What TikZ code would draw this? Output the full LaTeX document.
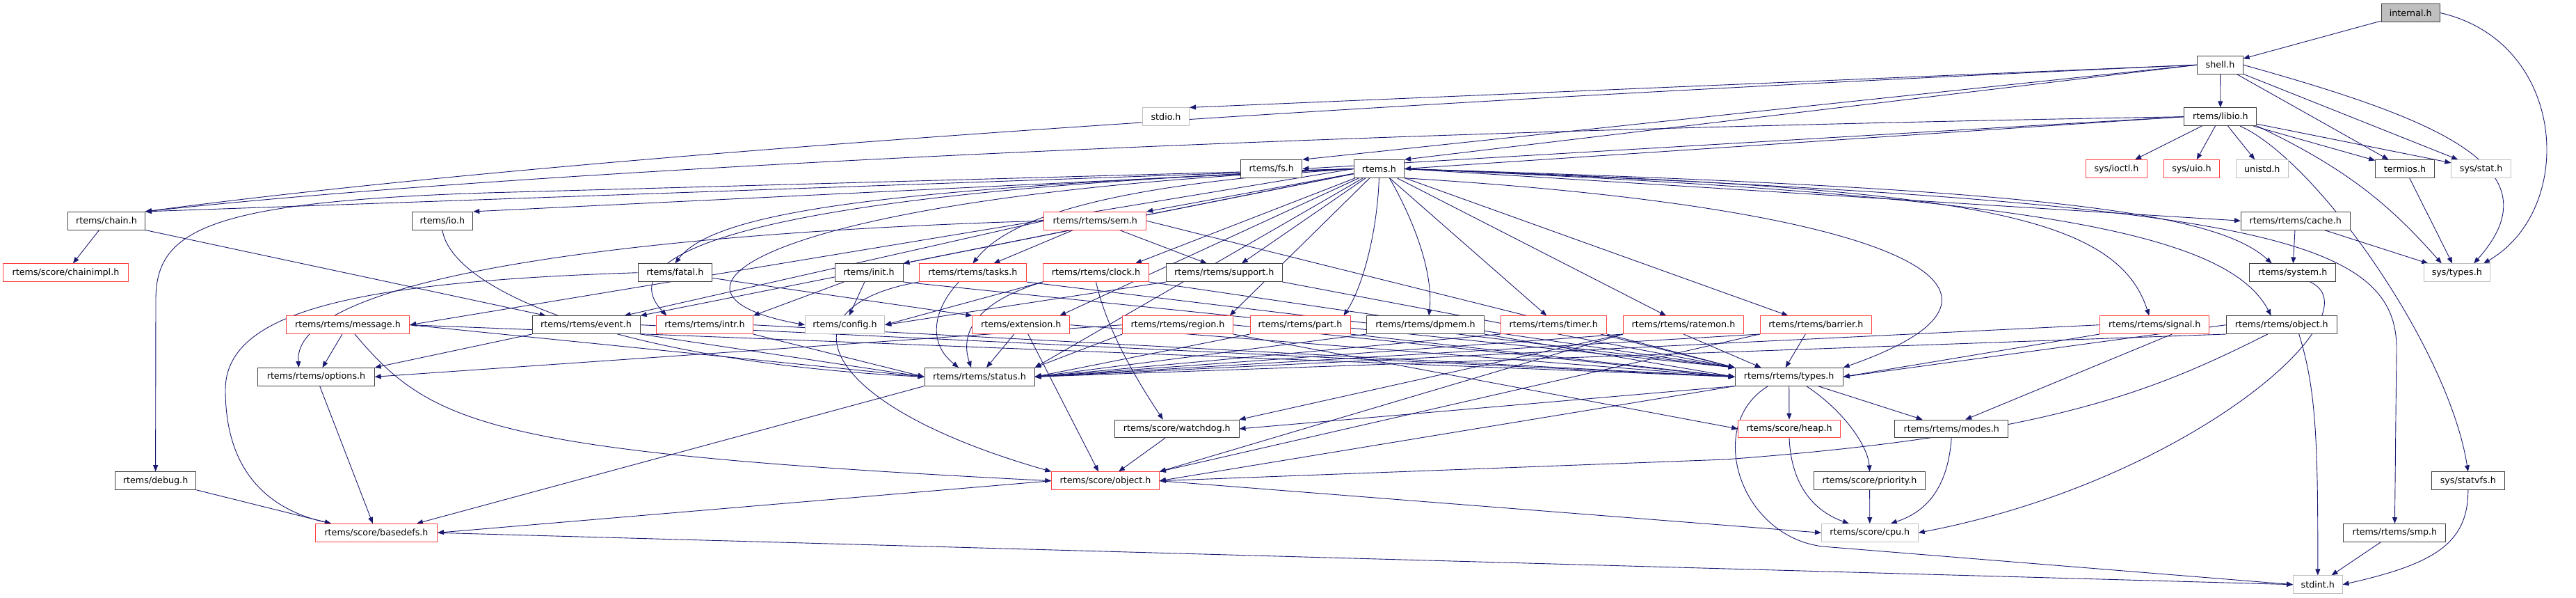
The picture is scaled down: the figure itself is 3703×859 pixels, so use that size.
\documentclass[tikz,border=0pt]{standalone}
\usepackage{fontspec}
\setmainfont{DejaVu Sans}
\usetikzlibrary{arrows.meta}
\definecolor{edgec}{HTML}{191970}
\definecolor{nblk}{HTML}{404040}
\definecolor{nred}{HTML}{FF4040}
\definecolor{ngry}{HTML}{BFBFBF}
\pgfdeclarelayer{edgelayer}
\pgfsetlayers{edgelayer,main}
\newcommand\mknode[6]{\node[#6, minimum width=#5pt] (#1) at (#3,#4) {#2};}
\begin{document}
\begin{tikzpicture}[x=1pt,y=-1pt,
  dbox/.style={rectangle, inner sep=0pt, minimum height=25.6pt, line width=1pt, fill=white,
    font=\fontsize{12.7pt}{15pt}\selectfont},
  nb/.style={dbox, draw=nblk},
  nr/.style={dbox, draw=nred},
  ng/.style={dbox, draw=ngry},
  nf/.style={dbox, draw=nblk, fill=ngry},
  ed/.style={draw=edgec, line width=0.9pt, -{Triangle[length=9pt,width=7pt]}}]
\useasboundingbox (0,0) rectangle (3703,859);
% ---------- nodes ----------
\mknode{internal}{internal.h}{3465.2}{18.5}{84.3}{nf}
\mknode{shell}{shell.h}{3191.5}{93.2}{65.3}{nb}
\mknode{stdio}{stdio.h}{1676}{167.7}{67}{ng}
\mknode{libio}{rtems/libio.h}{3191.9}{167.7}{104}{nb}
\mknode{fs}{rtems/fs.h}{1827.8}{242.5}{88.2}{nb}
\mknode{rtems}{rtems.h}{1982.4}{242.5}{72.4}{nb}
\mknode{ioctl}{sys/ioctl.h}{3042.5}{242.5}{88.2}{nr}
\mknode{uio}{sys/uio.h}{3150.4}{242.5}{80.3}{nr}
\mknode{unistd}{unistd.h}{3251.8}{242.5}{75.1}{ng}
\mknode{termios}{termios.h}{3457}{242.5}{84.6}{nb}
\mknode{stat}{sys/stat.h}{3566.6}{242.5}{85.4}{ng}
\mknode{chain}{rtems/chain.h}{153}{317.2}{110.7}{nb}
\mknode{io}{rtems/io.h}{635.9}{317.2}{87.7}{nb}
\mknode{sem}{rtems/rtems/sem.h}{1574.3}{317.2}{146.7}{nr}
\mknode{cache}{rtems/rtems/cache.h}{3299.7}{317.2}{156.6}{nb}
\mknode{chainimpl}{rtems/score/chainimpl.h}{94.5}{391.7}{179.6}{nr}
\mknode{fatal}{rtems/fatal.h}{970.4}{391.7}{106.8}{nb}
\mknode{init}{rtems/init.h}{1249}{391.7}{98}{nb}
\mknode{tasks}{rtems/rtems/tasks.h}{1398.4}{391.7}{153.8}{nr}
\mknode{clock}{rtems/rtems/clock.h}{1575.5}{391.7}{152.2}{nr}
\mknode{support}{rtems/rtems/support.h}{1759.8}{391.7}{166.5}{nb}
\mknode{system}{rtems/system.h}{3295.7}{391.7}{124.1}{nb}
\mknode{systypes}{sys/types.h}{3531.8}{391.7}{95.6}{ng}
\mknode{message}{rtems/rtems/message.h}{500}{466.7}{177.6}{nr}
\mknode{event}{rtems/rtems/event.h}{842.6}{466.7}{155}{nb}
\mknode{intr}{rtems/rtems/intr.h}{1013}{466.7}{138.4}{nr}
\mknode{config}{rtems/config.h}{1214.5}{466.7}{114.2}{ng}
\mknode{extension}{rtems/extension.h}{1467.8}{466.7}{140}{nr}
\mknode{region}{rtems/rtems/region.h}{1693}{466.7}{158.5}{nr}
\mknode{part}{rtems/rtems/part.h}{1869}{466.7}{144}{nr}
\mknode{dpmem}{rtems/rtems/dpmem.h}{2049}{466.7}{168.4}{nb}
\mknode{timer}{rtems/rtems/timer.h}{2233.3}{466.7}{152.6}{nr}
\mknode{ratemon}{rtems/rtems/ratemon.h}{2420}{466.7}{173.2}{nr}
\mknode{barrier}{rtems/rtems/barrier.h}{2610.3}{466.7}{160.2}{nr}
\mknode{signal}{rtems/rtems/signal.h}{3097.3}{466.7}{157.3}{nr}
\mknode{robject}{rtems/rtems/object.h}{3279.7}{466.7}{158.6}{nb}
\mknode{options}{rtems/rtems/options.h}{454.5}{541.3}{167.3}{nb}
\mknode{status}{rtems/rtems/status.h}{1408}{541.3}{158}{nb}
\mknode{types}{rtems/rtems/types.h}{2571.7}{541.3}{155}{nb}
\mknode{watchdog}{rtems/score/watchdog.h}{1691.8}{616}{178.4}{nb}
\mknode{heap}{rtems/score/heap.h}{2572}{616}{146.7}{nr}
\mknode{modes}{rtems/rtems/modes.h}{2805.2}{616}{162.5}{nb}
\mknode{debug}{rtems/debug.h}{223.6}{690.5}{116.6}{nb}
\mknode{sobject}{rtems/score/object.h}{1589}{690.7}{154.6}{nr}
\mknode{priority}{rtems/score/priority.h}{2687.6}{690.7}{160.5}{nb}
\mknode{statvfs}{sys/statvfs.h}{3547.8}{690.7}{105.6}{nb}
\mknode{basedefs}{rtems/score/basedefs.h}{541}{765.3}{175}{nr}
\mknode{cpu}{rtems/score/cpu.h}{2687.8}{765.3}{138.8}{ng}
\mknode{smp}{rtems/rtems/smp.h}{3442.4}{765.3}{147.1}{nb}
\mknode{stdint}{stdint.h}{3331.8}{839.7}{70.5}{ng}
% ---------- edges (on a layer below the nodes) ----------
\begin{pgfonlayer}{edgelayer}
% internal
\draw[ed] (internal) -- (shell);
\draw[ed] (internal.east) .. controls (3690,60) and (3705,300) .. ([xshift=-10pt]systypes.north east);
% shell
\draw[ed] (shell) -- (libio);
\draw[ed] (shell) -- (termios);
\draw[ed] (shell) -- (stat);
\draw[ed] (shell.east) .. controls (3500,170) and (3680,240) .. ([xshift=-24pt]systypes.north east);
\draw[ed] (shell.west) -- (stdio.north east);
\draw[ed] (shell.west) -- (fs.north east);
\draw[ed] (shell.west) -- (rtems.north east);
\draw[ed] (shell.west) .. controls (1900,150) and (800,225) .. (chain.north east);
% libio
\draw[ed] (libio.west) -- (fs.east);
\draw[ed] (libio.west) -- (rtems.east);
\draw[ed] (libio.west) .. controls (1800,190) and (700,250) .. (chain.north east);
\draw[ed] (libio) -- (ioctl);
\draw[ed] (libio) -- (uio);
\draw[ed] (libio) -- (unistd);
\draw[ed] (libio) -- (termios);
\draw[ed] (libio) -- (stat);
\draw[ed] (libio.south east) .. controls (3380,245) and (3440,300) .. ([xshift=-22pt]systypes.north);
\draw[ed] ([xshift=28pt]libio.south) .. controls (3330,230) and (3520,500) .. (statvfs.north);
% misc top right
\draw[ed] (termios) -- (systypes);
\draw[ed] (cache) -- (systypes);
\draw[ed] (cache) -- (system);
\draw[ed] ([xshift=25pt]system.south) .. controls (3420,450) and (3150,690) .. (cpu.east);
% chain
\draw[ed] (chain) -- (chainimpl);
\draw[ed] (chain.south east) -- ([xshift=20pt]event.north west);
% rtems.h
\draw[ed] (rtems.west) -- (chain.north east);
\draw[ed] (rtems.west) -- (io.north east);
\draw[ed] (rtems) -- (sem.north east);
\draw[ed] (rtems.east) -- (cache.west);
\draw[ed] (rtems.west) .. controls (1300,270) and (1030,300) .. (fatal.north);
\draw[ed] (rtems) -- (init.north east);
\draw[ed] (rtems.west) .. controls (1650,262) and (1460,300) .. (tasks.north);
\draw[ed] (rtems) -- ([xshift=-20pt]clock.north east);
\draw[ed] (rtems) -- ([xshift=25pt]support.north);
\draw[ed] (rtems.east) .. controls (2900,270) and (3180,300) .. ([xshift=-30pt]system.north);
\draw[ed] (rtems.west) -- (message.east);
\draw[ed] (rtems) -- (event.north east);
\draw[ed] (rtems.west) .. controls (1100,275) and (870,360) .. ([xshift=15pt]intr.north west);
\draw[ed] (rtems.west) .. controls (1100,280) and (900,420) .. (config.west);
\draw[ed] (rtems) -- ([xshift=-15pt]extension.north east);
\draw[ed] (rtems) -- ([xshift=-5pt]region.north east);
\draw[ed] (rtems.south) .. controls (1980,330) and (1960,410) .. ([xshift=-10pt]part.north east);
\draw[ed] ([xshift=15pt]rtems.south) .. controls (2040,330) and (2060,400) .. ([xshift=5pt]dpmem.north);
\draw[ed] (rtems) -- ([xshift=-10pt]timer.north);
\draw[ed] (rtems) -- ([xshift=-25pt]ratemon.north);
\draw[ed] (rtems) -- ([xshift=-40pt]barrier.north);
\draw[ed] (rtems.east) .. controls (2800,270) and (3040,300) .. ([xshift=-8pt]signal.north);
\draw[ed] (rtems.east) .. controls (2900,280) and (3200,330) .. ([xshift=-15pt]robject.north);
\draw[ed] (rtems.east) .. controls (3200,290) and (3445,330) .. (3445,500) -- (smp.north);
\draw[ed] (rtems) -- (status.north east);
\draw[ed] (rtems.south east) .. controls (2750,300) and (2960,420) .. (types.north east);
\draw[ed] (rtems.west) -- (700,277) .. controls (300,290) and (224,330) .. (224,430) -- (debug.north);
% level 4/5
\draw[ed] (io.south) .. controls (650,420) and (900,520) .. (status.west);
\draw[ed] (fatal.west) .. controls (500,405) and (324,450) .. (324,560) .. controls (324,690) and (400,735) .. ([xshift=-65pt]basedefs.north);
\draw[ed] (fatal) -- (extension.north west);
\draw[ed] (init) -- (config);
\draw[ed] (init) -- (intr.north east);
\draw[ed] (init.south east) -- (types.north west);
\draw[ed] (sem) -- ([xshift=30pt]tasks.north);
\draw[ed] (sem) -- ([xshift=-25pt]support.north);
\draw[ed] (sem.west) .. controls (900,335) and (420,400) .. ([xshift=-25pt]options.north);
\draw[ed] (sem.west) -- ([xshift=-23pt]event.north east);
\draw[ed] (sem.east) -- (types.north west);
\draw[ed] ([xshift=-20pt]tasks.south) .. controls (1345,440) and (1330,490) .. ([xshift=-30pt]status.north);
\draw[ed] (tasks.south west) .. controls (1120,440) and (1170,580) .. (sobject.north west);
\draw[ed] (tasks.south east) -- (types.north west);
\draw[ed] (clock.south west) .. controls (1400,435) and (1380,480) .. ([xshift=-12pt]status.north);
\draw[ed] (clock.south) .. controls (1590,470) and (1630,540) .. ([xshift=-20pt]watchdog.north);
\draw[ed] (clock.south east) -- (types.north west);
\draw[ed] (clock.south west) -- (config.east);
\draw[ed] (support.south east) -- (types.north west);
\draw[ed] (support.south west) -- (config.east);
% level 6
\draw[ed] ([xshift=-8pt]message.south) -- ([xshift=9pt]options.north);
\draw[ed] ([xshift=10pt]message.south) .. controls (620,610) and (700,650) .. (sobject.west);
\draw[ed] (message.east) -- (status.west);
\draw[ed] (message.east) -- (types.west);
\draw[ed] (event.south west) -- (options.north east);
\draw[ed] (event.south east) -- (status.west);
\draw[ed] (event.east) -- (types.west);
\draw[ed] (intr.south east) -- (status.west);
\draw[ed] (intr.east) -- (types.west);
\draw[ed] ([xshift=-10pt]extension.south) -- ([xshift=10pt]status.north);
\draw[ed] ([xshift=10pt]extension.south) -- ([xshift=-10pt]sobject.north);
\draw[ed] (extension.east) -- (types.west);
\draw[ed] (region.west) -- (options.east);
\draw[ed] (region.south west) -- (status.north east);
\draw[ed] (region.south east) -- (heap.west);
\draw[ed] (region.east) -- (types.west);
\draw[ed] (part.south west) -- (status.east);
\draw[ed] (part.south east) -- (types.west);
\draw[ed] (dpmem.south west) -- (status.east);
\draw[ed] (dpmem.south east) -- (types.west);
\draw[ed] (timer.south west) -- (status.east);
\draw[ed] (timer.south east) -- (types.north west);
\draw[ed] (ratemon.south west) -- (status.east);
\draw[ed] (ratemon.south) -- ([xshift=-40pt]types.north);
\draw[ed] (ratemon.south west) -- (watchdog.north east);
\draw[ed] (ratemon.south west) -- (sobject.north east);
\draw[ed] (barrier.south west) -- (status.east);
\draw[ed] ([xshift=-15pt]barrier.south) -- ([xshift=-5pt]types.north);
\draw[ed] (barrier.south west) -- (sobject.north east);
\draw[ed] (signal.west) -- (status.east);
\draw[ed] (signal.south west) -- (types.east);
\draw[ed] ([xshift=25pt]signal.south) -- ([xshift=20pt]modes.north);
\draw[ed] (robject.south west) -- (status.east);
\draw[ed] (robject.west) -- (types.east);
\draw[ed] ([xshift=-20pt]robject.south) .. controls (3100,560) and (2950,625) .. (2480,660) -- (sobject.east);
\draw[ed] ([xshift=25pt]robject.south) .. controls (3330,560) and (3332,640) .. (stdint.north);
% level 7 and below
\draw[ed] (types) -- (heap);
\draw[ed] (types) -- (modes);
\draw[ed] ([xshift=25pt]types.south) .. controls (2650,590) and (2685,640) .. (priority.north);
\draw[ed] (types.south west) -- (watchdog.east);
\draw[ed] (types.south west) -- (sobject.east);
\draw[ed] ([xshift=-30pt]types.south) .. controls (2450,610) and (2500,770) .. (2620,785) -- (stdint.west);
\draw[ed] ([xshift=-17pt]watchdog.south) -- ([xshift=19pt]sobject.north);
\draw[ed] (heap.south) .. controls (2575,700) and (2610,735) .. ([xshift=-30pt]cpu.north);
\draw[ed] (priority) -- (cpu);
\draw[ed] (modes.south) .. controls (2800,700) and (2770,735) .. ([xshift=30pt]cpu.north);
\draw[ed] (sobject.west) -- (basedefs.east);
\draw[ed] (sobject.east) -- (cpu.west);
\draw[ed] (options) -- (basedefs);
\draw[ed] (status.south west) -- ([xshift=-30pt]basedefs.north east);
\draw[ed] (debug.south east) -- ([xshift=-65pt]basedefs.north);
\draw[ed] (basedefs.east) -- (stdint.west);
\draw[ed] (smp) -- (stdint);
\draw[ed] (statvfs.south) .. controls (3548,780) and (3500,810) .. (stdint.east);
\end{pgfonlayer}
\end{tikzpicture}
\end{document}
